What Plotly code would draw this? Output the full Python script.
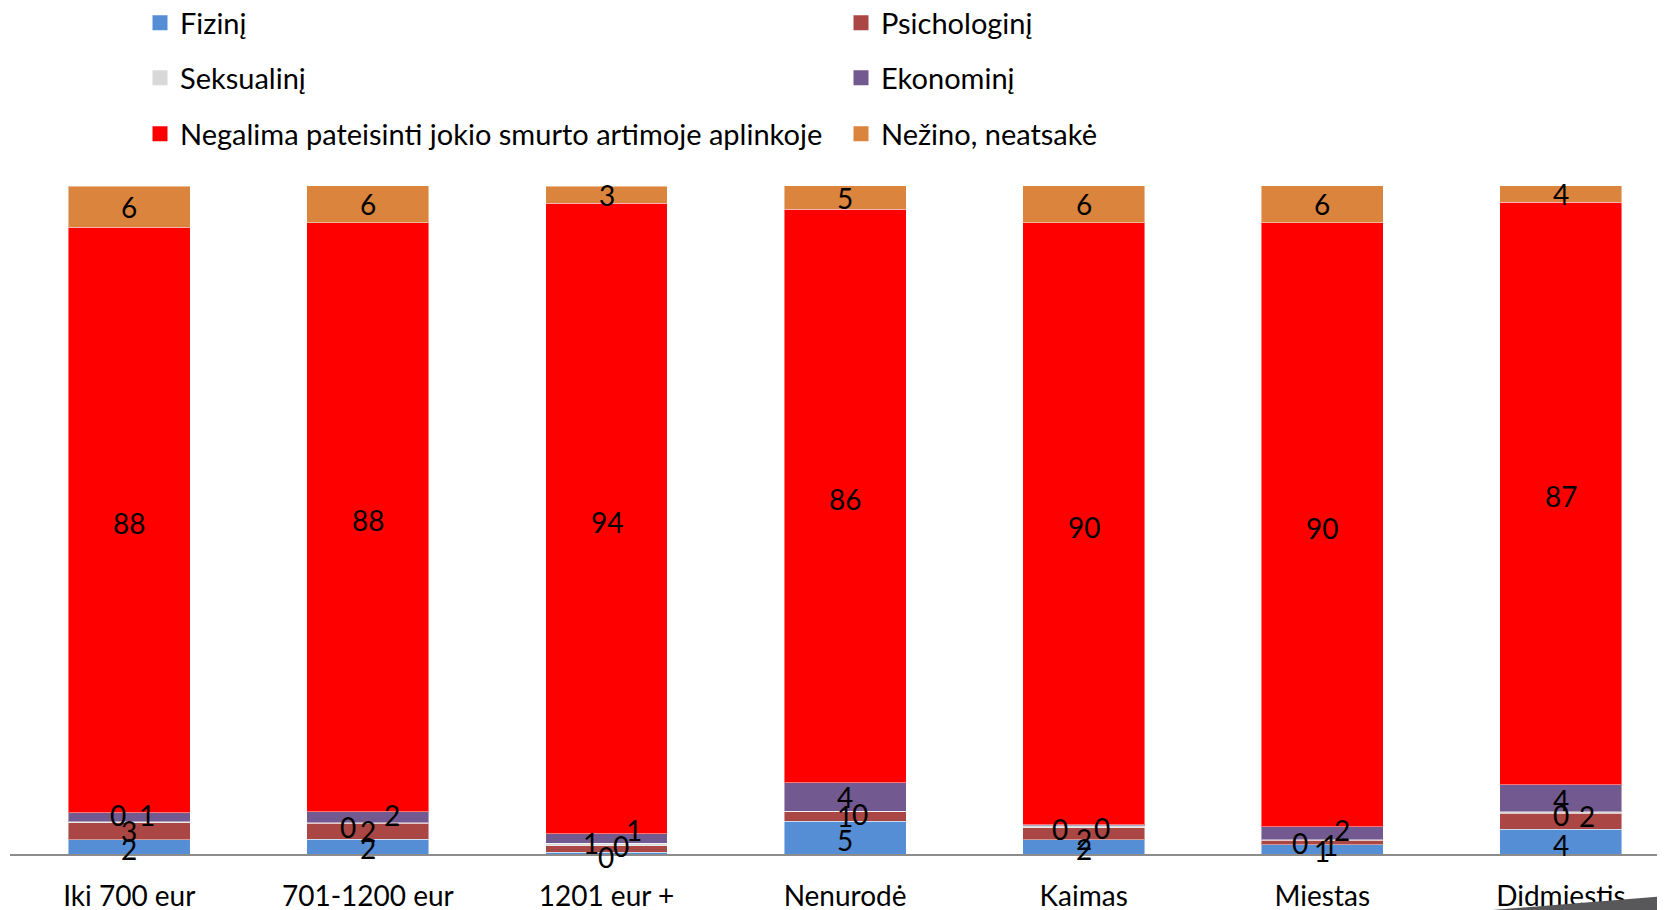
import plotly.graph_objects as go

categories = ["Iki 700 eur", "701-1200 eur", "1201 eur +", "Nenurodė", "Kaimas", "Miestas", "Didmiestis"]

fizini = [2.1, 2.2, 0.3, 4.9, 2.1, 1.35, 3.7]
psichologini = [2.6, 2.4, 0.9, 1.4, 1.8, 0.7, 2.4]
seksualini = [0.1, 0.1, 0.4, 0.1, 0.3, 0.1, 0.2]
ekonomini = [1.4, 1.6, 1.4, 4.3, 0.2, 1.95, 4.1]
negalima = [87.6, 88.2, 94.4, 85.8, 90.1, 90.4, 87.2]
nezino = [6.2, 5.6, 2.6, 4.6, 5.6, 5.6, 3.6]

series_names = ["Fizinį", "Psichologinį", "Seksualinį", "Ekonominį",
                "Negalima pateisinti jokio smurto artimoje aplinkoje", "Nežino, neatsakė"]
series_values = [fizini, psichologini, seksualini, ekonomini, negalima, nezino]
colors = ["#558ED5", "#AA4644", "#D9D9D9", "#72598F", "#FF0000", "#DB843D"]
legend_ids = ["legend", "legend", "legend2", "legend2", "legend3", "legend3"]

# label pixel offsets (xshift, yshift) per series per category (style only)
label_shifts = [
    [(0, -2), (0, -1), (-1, -4), (0, -2), (0, -2), (0, -2), (0, -3)],
    [(0, 0), (0, 0), (-16, 6), (0, 1), (0, -5), (8, -2), (26, 5)],
    [(-11, 7), (-20, -4), (14, -1), (15, -2), (-24, -2), (-22, -3), (0, -2)],
    [(18, 2), (24, 2), (27, 9), (0, 0), (18, -3), (20, 3), (0, -2)],
    [(0, -3)] * 7,
    [(0, 0)] * 7,
]

YMAX = 100
FONT = "Lato"

# page is rendered with an 8px body margin: design in page pixels, shift by OFF
OFF = 8
W, H = 1665 - OFF, 910 - OFF
L, R, T, B = 10, 1665, 186, 854  # plot area in page pixels

fig = go.Figure()
for name, vals, col, lg in zip(series_names, series_values, colors, legend_ids):
    fig.add_trace(go.Bar(
        x=categories, y=vals, name=name, showlegend=False,
        marker=dict(color=col, line=dict(color="rgba(255,255,255,0.45)", width=1)),
        hoverinfo="x+y+name",
    ))
# legend entries with larger square swatches
for name, col, lg in zip(series_names, colors, legend_ids):
    fig.add_trace(go.Scatter(
        x=[None], y=[None], mode="markers", name=name, legend=lg,
        marker=dict(symbol="square", size=15, color=col), hoverinfo="skip",
    ))

annotations = []
base = [0.0] * len(categories)
for s, vals in enumerate(series_values):
    for i, v in enumerate(vals):
        lo = min(base[i], YMAX)
        hi = min(base[i] + v, YMAX)
        mid = (lo + hi) / 2
        dx, dy = label_shifts[s][i]
        annotations.append(dict(
            x=categories[i], y=mid, xref="x", yref="y", text=f"{v:.0f}",
            showarrow=False, xshift=dx, yshift=dy,
            font=dict(family=FONT, size=28, color="#000000"),
        ))
        base[i] += v


def px(xp):
    return (xp - L) / (R - L)


def py(yp):
    return (B - yp) / (B - T)


# decorative wedge at the bottom-right corner (slide artefact)
shapes = [dict(
    type="path", xref="paper", yref="paper", layer="above",
    path=f"M{px(1480)},{py(911)} L{px(1666)},{py(896)} L{px(1666)},{py(911)} Z",
    fillcolor="#58585A", line=dict(width=0),
)]

legend_common = dict(
    orientation="h", xref="container", yref="container", x=(140 - OFF) / W,
    xanchor="left", yanchor="middle", entrywidth=656, entrywidthmode="pixels",
    font=dict(family=FONT, size=29, color="#000000"), bgcolor="rgba(0,0,0,0)",
    traceorder="normal", itemclick=False,
)

fig.update_layout(
    width=W, height=H, autosize=False,
    margin=dict(l=L - OFF, r=0, t=T - OFF, b=H - (B - OFF), pad=0, autoexpand=False),
    paper_bgcolor="white", plot_bgcolor="white",
    barmode="stack", bargap=0.489,
    font=dict(family=FONT, size=28, color="#000000"),
    xaxis=dict(
        range=[-0.5, -0.5 + (R - L) / 238.6], showgrid=False, zeroline=False,
        showline=True, linecolor="#8C8C8C", linewidth=2, ticks="",
        tickfont=dict(family=FONT, size=28, color="#000000"), ticklabelstandoff=16,
        fixedrange=True, automargin=False,
    ),
    yaxis=dict(range=[0, YMAX], visible=False, fixedrange=True, automargin=False),
    legend=dict(legend_common, y=1 - (23 - OFF) / H),
    legend2=dict(legend_common, y=1 - (78 - OFF) / H),
    legend3=dict(legend_common, y=1 - (134 - OFF) / H),
    annotations=annotations,
    shapes=shapes,
    showlegend=True,
)

fig.write_html("out.html")
